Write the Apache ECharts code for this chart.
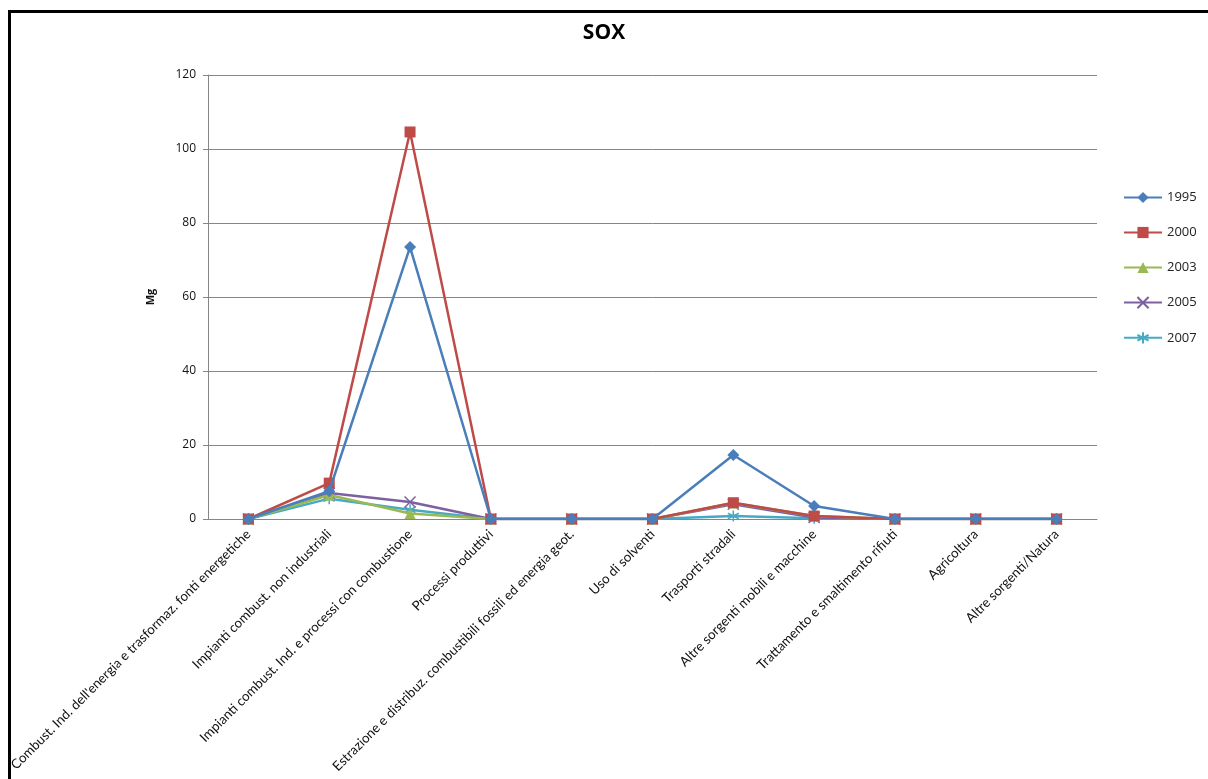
<!DOCTYPE html>
<html>
<head>
<meta charset="utf-8">
<script src="https://cdn.jsdelivr.net/npm/echarts@6/dist/echarts.min.js"></script>
<style>
  html, body { margin: 0; padding: 0; background: #fff; }
  #chart { width: 1208px; height: 779px; }
</style>
</head>
<body>
<div id="chart"></div>
<script>
// Emission sources (SNAP macrosectors)
const categories = [
  "Combust. Ind. dell'energia e trasformaz. fonti energetiche",
  "Impianti combust. non industriali",
  "Impianti combust. Ind. e processi con combustione",
  "Processi produttivi",
  "Estrazione e distribuz. combustibili fossili ed energia geot.",
  "Uso di solventi",
  "Trasporti stradali",
  "Altre sorgenti mobili e macchine",
  "Trattamento e smaltimento rifiuti",
  "Agricoltura",
  "Altre sorgenti/Natura"
];

// SOx emissions, Mg
const years = ["1995", "2000", "2003", "2005", "2007"];
const sox1995 = [0, 7.5, 73.5, 0, 0, 0, 17.3, 3.5, 0, 0, 0];
const sox2000 = [0, 9.7, 104.6, 0, 0, 0, 4.4, 0.8, 0, 0, 0];
const sox2003 = [0, 6.5, 1.5, 0, 0, 0, 4.3, 0.8, 0, 0, 0];
const sox2005 = [0, 7.0, 4.6, 0, 0, 0, 4.0, 0.4, 0, 0, 0];
const sox2007 = [0, 5.5, 2.5, 0, 0, 0, 0.8, 0.2, 0, 0, 0];

const yTicks = [0, 20, 40, 60, 80, 100, 120];

const seriesValues = [sox1995, sox2000, sox2003, sox2005, sox2007];
const colors = ['#4A7EBB', '#BE4B48', '#98B954', '#7D60A0', '#46AAC5'];
const symbols = [
  'diamond',
  'rect',
  'triangle',
  'path://M0,0L10,10M10,0L0,10',
  'path://M5,0L5,10M0,2.5L10,7.5M0,7.5L10,2.5'
];
const symbolSizes = [12, 11, 11, 11, 11];
const strokeOnly = [false, false, false, true, true];

const chart = echarts.init(document.getElementById('chart'), null, { renderer: 'canvas' });

const series = years.map((y, i) => ({
  name: y,
  type: 'line',
  data: seriesValues[i],
  symbol: symbols[i],
  symbolSize: symbolSizes[i],
  showAllSymbol: true,
  lineStyle: { color: colors[i], width: 2.5 },
  itemStyle: strokeOnly[i]
    ? { color: colors[i], borderColor: colors[i], borderWidth: 1.5 }
    : { color: colors[i], borderColor: colors[i], borderWidth: 0 },
  emphasis: { disabled: true },
  z: 10 - i
}));

chart.setOption({
  animation: false,
  backgroundColor: '#fff',
  textStyle: { fontFamily: "'Open Sans', sans-serif" },
  title: {
    text: 'SOX',
    left: 'center',
    top: 18,
    textStyle: { fontFamily: "'Open Sans'", fontWeight: 'bold', fontSize: 21, color: '#000' }
  },
  graphic: [{
    type: 'rect',
    shape: { x: 9.5, y: 11.5, width: 1250, height: 850 },
    style: { fill: 'none', stroke: '#000', lineWidth: 3 },
    silent: true
  }],
  legend: {
    orient: 'vertical',
    left: 1118,
    top: 186,
    itemGap: 22,
    itemWidth: 38,
    itemHeight: 14,
    textStyle: { fontFamily: "'Open Sans'", fontSize: 13, color: '#222' },
    data: years
  },
  grid: { left: 208, right: 111, top: 75, bottom: 260 },
  xAxis: {
    type: 'category',
    data: categories,
    boundaryGap: true,
    axisLine: { lineStyle: { color: '#868686', width: 1 } },
    axisTick: { show: false },
    axisLabel: {
      rotate: 45,
      interval: 0,
      margin: 13,
      fontSize: 13.3,
      color: '#111',
      fontFamily: 'Lato'
    }
  },
  yAxis: {
    type: 'value',
    min: yTicks[0],
    max: yTicks[yTicks.length - 1],
    interval: 20,
    name: 'Mg',
    nameLocation: 'middle',
    nameGap: 52,
    nameTextStyle: { fontFamily: "'Open Sans'", fontWeight: 'bold', fontSize: 11, color: '#111' },
    axisLine: { show: true, lineStyle: { color: '#868686' } },
    axisTick: { show: true, length: 5, lineStyle: { color: '#868686' } },
    axisLabel: { fontFamily: "'Open Sans'", fontSize: 12, color: '#111', margin: 12 },
    splitLine: { lineStyle: { color: '#868686', width: 1 } }
  },
  series: series
});
</script>
</body>
</html>
